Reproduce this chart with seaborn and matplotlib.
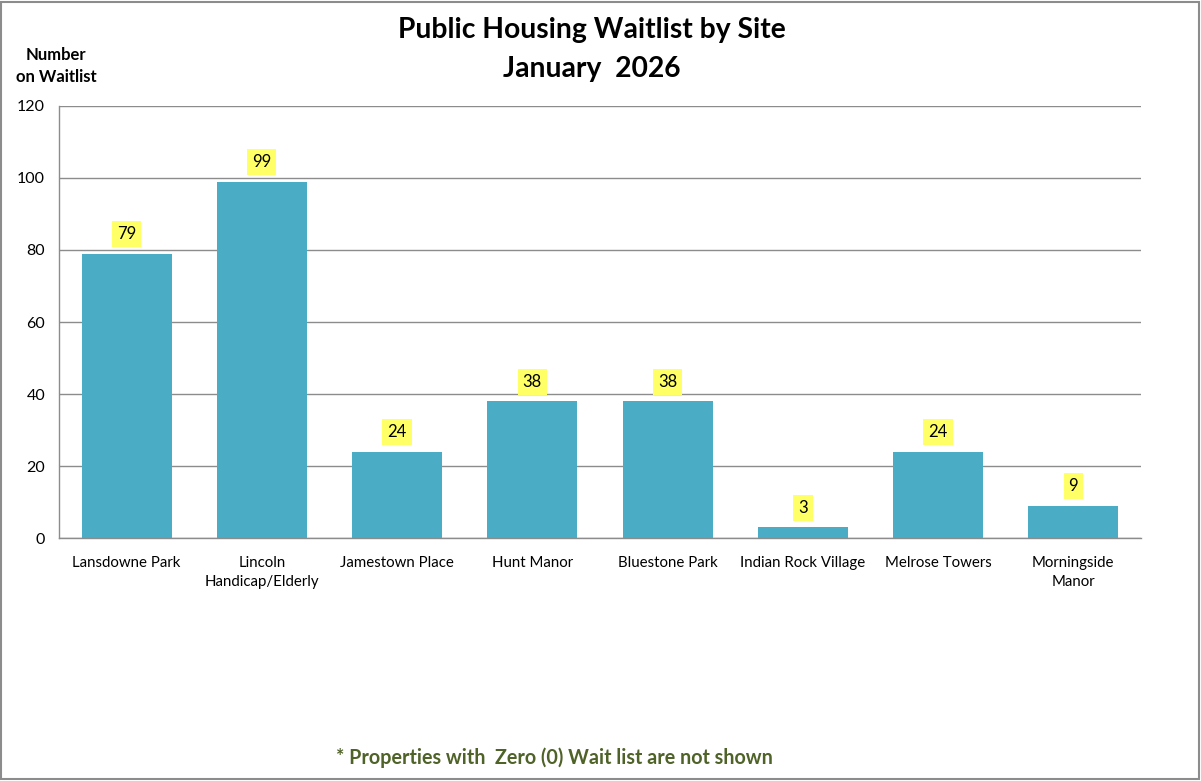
import numpy as np
import pandas as pd
import seaborn as sns
import matplotlib.pyplot as plt
from matplotlib.patches import Rectangle

# data
sites = ["Lansdowne Park", "Lincoln\nHandicap/Elderly", "Jamestown Place", "Hunt Manor",
         "Bluestone Park", "Indian Rock Village", "Melrose Towers", "Morningside\nManor"]
waitlist = [79, 99, 24, 38, 38, 3, 24, 9]
y_ticks = [0, 20, 40, 60, 80, 100, 120]

df = pd.DataFrame({"Site": sites, "Waitlist": waitlist})

sns.set_style("white")
plt.rcParams['font.family'] = ['Lato', 'DejaVu Sans']
plt.rcParams['text.color'] = 'black'
plt.rcParams['xtick.labelcolor'] = 'black'
plt.rcParams['ytick.labelcolor'] = 'black'

fig = plt.figure(figsize=(12.01, 7.81), dpi=100)
ax = fig.add_axes([0.0491, 0.3111, 0.9009, 0.5532])

sns.barplot(data=df, x="Site", y="Waitlist", color="#4BACC6", saturation=1,
            width=0.665, linewidth=0, ax=ax)

ax.set_ylim(0, 120)
ax.set_xlim(-0.5, len(sites) - 0.5)
ax.set_yticks(y_ticks)
ax.yaxis.grid(True, color="#8c8c8c", linewidth=1)
ax.set_axisbelow(True)
ax.set_xlabel("")
ax.set_ylabel("")
for s in ["top", "right"]:
    ax.spines[s].set_visible(False)
for s in ["left", "bottom"]:
    ax.spines[s].set_color("#8c8c8c")
    ax.spines[s].set_linewidth(1)

ax.tick_params(axis="y", which="major", length=5, color="#8c8c8c", direction="out",
               labelsize=11.5, pad=5, labelcolor="black")
ax.tick_params(axis="x", which="major", length=0, labelsize=10.8, pad=13, labelcolor="black")
for lab in ax.get_xticklabels():
    lab.set_linespacing(1.45)
ax.set_xticks(np.arange(-0.5, len(sites), 1), minor=True)
ax.tick_params(axis="x", which="minor", length=5, color="#8c8c8c", direction="out")

# value labels
for i, v in enumerate(waitlist):
    ax.annotate(str(v), (i, v), xytext=(0, 14), textcoords="offset points",
                ha="center", va="center", fontsize=12, color="black",
                bbox=dict(boxstyle="square,pad=0.3", fc="#FFFF66", ec="none"))

fig.text(0.493, 0.961, "Public Housing Waitlist by Site", ha="center", va="center",
         fontsize=20.3, fontweight="bold")
fig.text(0.493, 0.912, "January  2026", ha="center", va="center",
         fontsize=20.3, fontweight="bold")
fig.text(0.0466, 0.930, "Number", ha="center", va="center", fontsize=12, fontweight="bold")
fig.text(0.0466, 0.902, "on Waitlist", ha="center", va="center", fontsize=12, fontweight="bold")
fig.text(0.462, 0.0294, "* Properties with  Zero (0) Wait list are not shown", ha="center",
         va="center", fontsize=14.2, fontweight="bold", color="#4F6228")

fig.patches.append(Rectangle((0.001, 0.002), 0.997, 0.996, transform=fig.transFigure,
                             fill=False, ec="#8c8c8c", lw=1.5))

fig.savefig("out.png", dpi=100)
